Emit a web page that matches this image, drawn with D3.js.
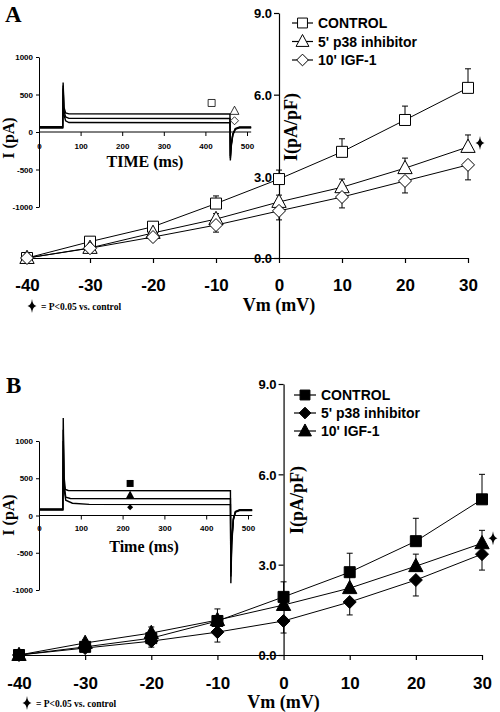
<!DOCTYPE html>
<html><head><meta charset="utf-8">
<script src="https://cdn.jsdelivr.net/npm/d3@7"></script>
<style>body{margin:0;background:#fff}svg{display:block}</style>
</head><body>
<svg id="c" width="500" height="712"></svg>
<script>
// ---------------- DATA ----------------
const vm = [-40, -30, -20, -10, 0, 10, 20, 30];
const xTicks = [-40, -30, -20, -10, 0, 10, 20, 30];
const yTicks = [0, 3, 6, 9];
const insetXTicks = [0, 100, 200, 300, 400, 500];
const insetYTicks = [-1000, -500, 0, 500, 1000];
const seriesNames = ["CONTROL", "5' p38 inhibitor", "10' IGF-1"];

// Panel A (pA/pF)
const aControl    = [0, 0.60, 1.15, 2.00, 2.90, 3.90, 5.07, 6.25];
const aControlErr = [0.05, 0.08, 0.12, 0.28, 0.33, 0.48, 0.51, 0.70];
const aP38        = [0, 0.37, 0.92, 1.43, 2.06, 2.60, 3.30, 4.08];
const aP38Err     = [0.05, 0.06, 0.10, 0.20, 0.25, 0.30, 0.37, 0.44];
const aIGF        = [0, 0.36, 0.77, 1.21, 1.73, 2.24, 2.83, 3.42];
const aIGFErr     = [0.03, 0.05, 0.10, 0.26, 0.33, 0.40, 0.44, 0.55];

// Panel B (pA/pF)
const bControl    = [0, 0.27, 0.56, 1.13, 1.93, 2.75, 3.78, 5.17];
const bControlErr = [0.05, 0.08, 0.12, 0.40, 0.50, 0.63, 0.76, 0.83];
const bP38        = [0, 0.23, 0.46, 0.76, 1.13, 1.76, 2.49, 3.35];
const bP38Err     = [0.04, 0.06, 0.20, 0.33, 0.40, 0.43, 0.53, 0.53];
const bIGF        = [0, 0.40, 0.73, 1.16, 1.66, 2.22, 2.95, 3.71];
const bIGFErr     = [0.05, 0.10, 0.20, 0.15, 0.20, 0.37, 0.40, 0.43];

// Inset current traces: [time ms, current pA]
const traceAControl = [[0,62],[57,62],[58,660],[60,330],[64,255],[72,242],[459,240],[460,-380],[462,-200],[466,-40],[472,40],[482,60],[510,60]];
const traceAP38     = [[0,70],[57,70],[58,620],[60,280],[64,200],[72,182],[459,180],[460,-350],[462,-180],[466,-30],[472,45],[482,66],[510,66]];
const traceAIGF     = [[0,52],[57,52],[58,580],[60,230],[64,150],[72,126],[459,124],[460,-320],[462,-160],[466,-25],[472,40],[482,55],[510,55]];
const traceBControl = [[0,88],[57,88],[58,1310],[60,520],[63,350],[70,336],[458,332],[459,-910],[461,-400],[465,-60],[470,55],[480,78],[510,78]];
const traceBIGF     = [[0,80],[57,80],[58,1150],[60,420],[64,245],[75,228],[458,224],[459,-820],[461,-350],[465,-50],[470,50],[480,72],[510,72]];
const traceBP38     = [[0,72],[57,72],[58,1000],[60,360],[64,205],[80,165],[120,150],[458,146],[459,-760],[461,-320],[465,-40],[470,45],[480,66],[510,66]];

// Inset series symbols [time ms, current pA]
const insetMarkA = [[415, 387], [470, 280], [470, 150]];   // square, triangle, diamond
const insetMarkB = [[218, 430], [218, 270], [218, 110]];   // square, triangle, diamond

// ---------------- DRAWING ----------------
const svg = d3.select("#c");
const SANS = "'Liberation Sans', Arial, sans-serif";
const SERIF = "'Liberation Serif', 'Times New Roman', serif";
const plainFmt = d => String(d);

const shapes = {
  square: s => `M${-s/2},${-s/2}H${s/2}V${s/2}H${-s/2}Z`,
  triangle: s => `M0,${-s*0.6}L${s*0.55},${s*0.42}L${-s*0.55},${s*0.42}Z`,
  diamond: s => `M0,${-s/2}L${s/2},0L0,${s/2}L${-s/2},0Z`
};
const starPath = (w, h) => `M0,${-h}Q${w*0.15},${-w*0.15} ${w},0Q${w*0.15},${w*0.15} 0,${h}Q${-w*0.15},${w*0.15} ${-w},0Q${-w*0.15},${-w*0.15} 0,${-h}Z`;

function mainPlot(cfg) {
  const g = svg.append("g");
  const x = d3.scaleLinear().domain([-40, 30]).range(cfg.xr);
  const y = d3.scaleLinear().domain([0, 9]).range(cfg.yr);

  const ax = g.append("g").attr("transform", `translate(0,${cfg.yr[0]})`)
    .call(d3.axisBottom(x).tickValues(xTicks).tickSize(5).tickSizeOuter(0).tickFormat(plainFmt));
  ax.selectAll("text").attr("font-family", SANS).attr("font-weight", "bold").attr("font-size", 17)
    .attr("y", cfg.xLabY).attr("dy", "0");
  const ay = g.append("g").attr("transform", `translate(${x(0)},0)`)
    .call(d3.axisLeft(y).tickValues(yTicks).tickSize(5).tickSizeOuter(0).tickFormat(d3.format(".1f")));
  ay.selectAll("text").attr("font-family", SANS).attr("font-weight", "bold").attr("font-size", 13)
    .attr("x", -7).attr("dy", "0.36em");
  g.selectAll(".domain, .tick line").attr("stroke", "#000").attr("stroke-width", 1.2);

  const line = d3.line().x((d, i) => x(vm[i])).y(d => y(d));
  cfg.series.forEach(s => {
    g.append("path").attr("d", line(s.v)).attr("fill", "none").attr("stroke", "#000").attr("stroke-width", 1);
  });
  cfg.series.forEach(s => {
    s.v.forEach((v, i) => {
      const y0 = y(v), y1 = y(v + s.dir * s.e[i]);
      g.append("line").attr("x1", x(vm[i])).attr("x2", x(vm[i])).attr("y1", y0).attr("y2", y1)
        .attr("stroke", "#000").attr("stroke-width", 1);
      g.append("line").attr("x1", x(vm[i]) - 3).attr("x2", x(vm[i]) + 3).attr("y1", y1).attr("y2", y1)
        .attr("stroke", "#000").attr("stroke-width", 1);
    });
  });
  cfg.series.forEach(s => {
    s.v.forEach((v, i) => {
      g.append("path").attr("d", shapes[s.shape](s.size))
        .attr("transform", `translate(${x(vm[i])},${y(v)})`)
        .attr("fill", cfg.filled ? "#000" : "#fff").attr("stroke", "#000").attr("stroke-width", 1);
    });
  });
  cfg.series.forEach((s, i) => {
    const ly = cfg.leg.y + i * cfg.leg.dy;
    g.append("line").attr("x1", cfg.leg.x).attr("x2", cfg.leg.x + cfg.leg.w).attr("y1", ly).attr("y2", ly)
      .attr("stroke", "#000").attr("stroke-width", 1.2);
    g.append("path").attr("d", shapes[s.shape](s.size * 0.9))
      .attr("transform", `translate(${cfg.leg.x + cfg.leg.w / 2},${ly})`)
      .attr("fill", cfg.filled ? "#000" : "#fff").attr("stroke", "#000").attr("stroke-width", 1);
    g.append("text").attr("x", cfg.leg.x + cfg.leg.w + 5).attr("y", ly + 5)
      .attr("font-family", SANS).attr("font-weight", "bold").attr("font-size", 14).text(s.name);
  });
  g.append("text").attr("transform", `translate(${cfg.yTitle[0]},${cfg.yTitle[1]}) rotate(-90)`)
    .attr("text-anchor", "middle").attr("dy", "0.35em")
    .attr("font-family", SERIF).attr("font-weight", "bold").attr("font-size", 18).text("I(pA/pF)");
  g.append("text").attr("x", x(0)).attr("y", cfg.xTitleY).attr("text-anchor", "middle")
    .attr("font-family", SERIF).attr("font-weight", "bold").attr("font-size", 18).text("Vm (mV)");
  const sg = cfg.series[cfg.sigIdx];
  g.append("path").attr("d", starPath(4.5, 7))
    .attr("transform", `translate(${x(30) + cfg.sigDx},${y(sg.v[sg.v.length - 1]) + cfg.sigDy})`).attr("fill", "#000");
  g.append("path").attr("d", starPath(4.5, 7)).attr("transform", `translate(${cfg.foot[0]},${cfg.foot[1]})`).attr("fill", "#000");
  g.append("text").attr("x", cfg.foot[0] + 9).attr("y", cfg.foot[1] + 3.5)
    .attr("font-family", SERIF).attr("font-weight", "bold").attr("font-size", 9.5).text("= P<0.05 vs. control");
}

function inset(cfg) {
  const g = svg.append("g");
  const x = d3.scaleLinear().domain([0, 500]).range(cfg.xr);
  const y = d3.scaleLinear().domain([-1000, 1000]).range(cfg.yr);
  const ax = g.append("g").attr("transform", `translate(0,${y(0)})`)
    .call(d3.axisBottom(x).tickValues(insetXTicks).tickSize(4).tickSizeOuter(0).tickFormat(plainFmt));
  ax.select(".domain").attr("d", `M${x(0)},0H${x(510)}`);
  ax.selectAll("text").attr("font-family", SANS).attr("font-weight", "bold").attr("font-size", 8)
    .attr("y", cfg.xLabDy).attr("dy", "0.36em");
  const ay = g.append("g").attr("transform", `translate(${x(0)},0)`)
    .call(d3.axisLeft(y).tickValues(insetYTicks).tickSize(3).tickSizeOuter(0).tickFormat(plainFmt));
  ay.selectAll("text").attr("font-family", SANS).attr("font-weight", "bold").attr("font-size", 8).attr("x", -6);
  g.selectAll(".domain, .tick line").attr("stroke", "#000").attr("stroke-width", 1);

  const line = d3.line().x(d => x(d[0])).y(d => y(d[1]));
  cfg.traces.forEach(t => {
    g.append("path").attr("d", line(t)).attr("fill", "none").attr("stroke", "#000").attr("stroke-width", 1.4);
  });
  cfg.marks.forEach((m, i) => {
    g.append("path").attr("d", shapes[cfg.markShapes[i]](cfg.markSizes[i]))
      .attr("transform", `translate(${x(m[0])},${y(m[1])})`)
      .attr("fill", cfg.filled ? "#000" : "#fff").attr("stroke", cfg.filled ? "none" : "#000").attr("stroke-width", 0.8);
  });
  g.append("text").attr("transform", `translate(${cfg.yTitle[0]},${cfg.yTitle[1]}) rotate(-90)`)
    .attr("text-anchor", "middle").attr("dy", "0.35em")
    .attr("font-family", SERIF).attr("font-weight", "bold").attr("font-size", 16).text("I (pA)");
  g.append("text").attr("x", cfg.xTitle[0]).attr("y", cfg.xTitle[1]).attr("text-anchor", "middle")
    .attr("font-family", SERIF).attr("font-weight", "bold").attr("font-size", 16).text(cfg.xTitleText);
}

// Panel A
mainPlot({
  xr: [27, 468], yr: [258, 13], xLabY: 33, xTitleY: 311, filled: false,
  series: [
    { name: seriesNames[0], v: aControl, e: aControlErr, dir: 1, shape: "square", size: 11 },
    { name: seriesNames[1], v: aP38, e: aP38Err, dir: 1, shape: "triangle", size: 13 },
    { name: seriesNames[2], v: aIGF, e: aIGFErr, dir: -1, shape: "diamond", size: 13 }
  ],
  leg: { x: 292, w: 21, y: 23, dy: 18.5 },
  yTitle: [291, 127], sigIdx: 1, sigDx: 12, sigDy: -4, foot: [32, 306]
});
inset({
  xr: [39, 247], yr: [207, 57], xLabDy: 14, traces: [traceAControl, traceAP38, traceAIGF],
  marks: insetMarkA, markShapes: ["square", "triangle", "diamond"], markSizes: [7, 8, 8], filled: false,
  yTitle: [8, 138], xTitle: [145, 167], xTitleText: "TIME (ms)"
});
svg.append("text").attr("x", 5).attr("y", 22).attr("font-family", SERIF).attr("font-weight", "bold").attr("font-size", 23).text("A");

// Panel B
mainPlot({
  xr: [19, 482], yr: [655, 384], xLabY: 34, xTitleY: 708, filled: true,
  series: [
    { name: seriesNames[0], v: bControl, e: bControlErr, dir: 1, shape: "square", size: 11 },
    { name: seriesNames[1], v: bP38, e: bP38Err, dir: -1, shape: "diamond", size: 13 },
    { name: seriesNames[2], v: bIGF, e: bIGFErr, dir: 1, shape: "triangle", size: 13 }
  ],
  leg: { x: 294, w: 22, y: 395, dy: 18 },
  yTitle: [297, 500], sigIdx: 2, sigDx: 11, sigDy: -5, foot: [27, 703]
});
inset({
  xr: [39, 248], yr: [590, 441], xLabDy: 13, traces: [traceBControl, traceBIGF, traceBP38],
  marks: insetMarkB, markShapes: ["square", "triangle", "diamond"], markSizes: [7, 8, 6], filled: true,
  yTitle: [8, 515], xTitle: [144, 552], xTitleText: "Time (ms)"
});
svg.append("text").attr("x", 6).attr("y", 393).attr("font-family", SERIF).attr("font-weight", "bold").attr("font-size", 23).text("B");
</script>
</body></html>
